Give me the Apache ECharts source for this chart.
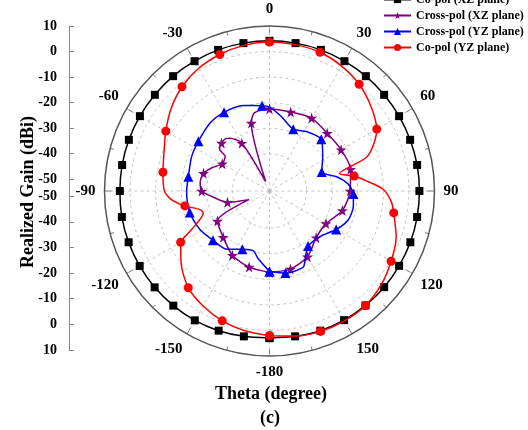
<!DOCTYPE html>
<html><head><meta charset="utf-8">
<script src="https://cdn.jsdelivr.net/npm/echarts@6/dist/echarts.min.js"></script>
<style>html,body{margin:0;padding:0;background:#fff}#c{width:528px;height:430px}</style>
</head><body><div id="c"></div>
<script>
// ---------- data ----------
const seriesNames = ['Co-pol (XZ plane)', 'Cross-pol (XZ plane)', 'Cross-pol (YZ plane)', 'Co-pol (YZ plane)'];

const angleTicks = [-180,-150,-120,-90,-60,-30,0,30,60,90,120,150];
const gainTicks = [10,0,-10,-20,-30,-40,-50];
const gridRings = [-40,-30,-20,-10,0];

// Co-pol (XZ plane)
const coXZTheta = [-180,-170,-160,-150,-140,-130,-120,-110,-100,-90,-80,-70,-60,-50,-40,-30,-20,-10,0,10,20,30,40,50,60,70,80,90,100,110,120,130,140,150,160,170,180];
const coXZGain  = [3.0,3.2,3.6,3.9,4.0,4.1,4.1,4.1,4.1,4.0,4.0,4.0,4.0,4.0,4.1,4.1,4.2,4.2,4.2,4.2,4.2,4.1,4.1,4.0,4.0,4.0,4.1,4.1,4.1,4.1,4.0,4.0,3.9,3.8,3.6,3.2,3.0];
const coXZMarks = coXZTheta;

// Cross-pol (XZ plane)
const crossXZTheta = [-180,-165,-150,-135,-120,-113,-105,-97,-90,-83,-75,-68,-60,-52,-50,-45,-40,-37,-30,-22,-15,-11,0,15,30,45,60,75,90,105,120,135,150,165,180];
const crossXZGain  = [-22.7,-23.7,-25.5,-28.9,-31.0,-45.8,-37.5,-32.9,-28.0,-27.2,-27.8,-30.2,-33.2,-32.5,-29.0,-28.0,-27.8,-28.7,-32.9,-50.5,-27.0,-23.4,-22.4,-22.5,-21.6,-22.6,-22.2,-21.7,-23.0,-25.0,-29.0,-28.7,-24.8,-22.9,-22.7];
const crossXZMarks = [-180,-165,-150,-135,-120,-105,-90,-75,-60,-45,-30,-15,0,15,30,45,60,75,90,105,120,135,150,165,180];

// Cross-pol (YZ plane)
const crossYZTheta = [-180,-170,-165,-155,-144,-131,-119,-105,-90,-80,-66,-55,-41,-30,-17,-5,0,9,21,32,45,57,70,78,85,92,100,110,120,132,145,151,156,166,169,180];
const crossYZGain  = [-23.0,-27.9,-30.3,-29.4,-26.3,-25.2,-23.4,-22.2,-22.1,-22.3,-21.2,-20.6,-19.2,-19.0,-19.6,-21.0,-21.7,-25.0,-28.6,-27.1,-25.9,-29.7,-32.8,-27.7,-23.6,-21.7,-21.2,-21.7,-24.4,-27.9,-28.2,-25.4,-22.0,-21.6,-21.8,-23.0];
const crossYZMarks = [-180,-155,-131,-105,-80,-55,-30,-5,21,45,70,92,120,145,169,180];

// Co-pol (YZ plane)
const coYZTheta = [-180,-170,-160,-150,-140,-130,-120,-118,-114,-108.5,-105,-100,-95,-90,-80,-70,-60,-50,-40,-30,-20,-10,0,10,20,30,40,50,60,66,71,76,80,84,89,95,100,110,120,130,140,150,160,170,180];
const coYZGain  = [2.1,1.0,-0.5,-2.6,-5.1,-9.5,-14.4,-17.8,-23.4,-27.2,-26.4,-20.9,-16.0,-13.4,-12.2,-10.6,-7.7,-4.3,-1.3,0.9,2.3,3.3,3.7,3.6,3.2,1.9,0.0,-2.8,-6.1,-10.0,-14.6,-26.3,-20.9,-16.5,-10.2,-6.7,-5.2,-1.8,0.4,2.5,3.9,4.1,3.9,3.1,2.1];
const coYZMarks = [-180,-160,-140,-120,-100,-80,-60,-40,-20,0,20,40,60,80,100,120,140,160,180];

// ---------- chart ----------
const FONT = '"Liberation Serif", "Times New Roman", serif';
const STAR = 'path://M50,0 L61,35 L98,35 L68,57 L79,91 L50,70 L21,91 L32,57 L2,35 L39,35 Z';

function build(theta, gain, marks) {
  return theta.map((t, i) => {
    const item = { value: [gain[i], t] };
    if (marks.indexOf(t) < 0) item.symbol = 'none';
    return item;
  });
}

const chart = echarts.init(document.getElementById('c'), null, { renderer: 'canvas' });

const lineSeries = (name, data, color, symbol, size, z) => ({
  name, type: 'line', coordinateSystem: 'polar', data,
  smooth: 0.25, symbol, symbolSize: size, showSymbol: true, z,
  itemStyle: { color, borderWidth: 0 },
  lineStyle: { color, width: 1.5 },
  emphasis: { disabled: true }, animation: false
});

chart.setOption({
  animation: false,
  textStyle: { fontFamily: FONT },
  polar: { center: [269.5, 191], radius: 165 },
  angleAxis: {
    type: 'value', min: -180, max: 180, interval: 30,
    startAngle: -90, clockwise: true,
    axisLine: { lineStyle: { color: '#555', width: 1.5 } },
    axisTick: { show: true, inside: true, length: 7, lineStyle: { color: '#777' } },
    minorTick: { show: true, splitNumber: 2, length: 4, lineStyle: { color: '#777' } },
    splitLine: { show: true, lineStyle: { type: [3, 3], color: '#b5b5b5', width: 0.8 } },
    axisLabel: {
      margin: 9, fontSize: 15, fontWeight: 'bold', color: '#000', fontFamily: FONT,
      formatter: v => (angleTicks.indexOf(v) >= 0 ? String(v) : '')
    }
  },
  radiusAxis: {
    type: 'value', min: -54.5, max: 10,
    axisLine: { show: false },
    axisTick: { show: false, customValues: gridRings },
    axisLabel: { show: false, customValues: gridRings },
    splitLine: { show: true, lineStyle: { type: [3, 3], color: '#b5b5b5', width: 0.8 } }
  },
  grid: [
    { left: 69, top: 26, width: 1, height: 161.7 },
    { left: 69, top: 187.7, width: 1, height: 162.3 }
  ],
  xAxis: [
    { gridIndex: 0, type: 'value', show: false },
    { gridIndex: 1, type: 'value', show: false }
  ],
  yAxis: [0, 1].map(g => ({
    gridIndex: g, type: 'value', min: -53.3, max: 10, inverse: g === 1,
    axisLine: { show: true, lineStyle: { color: '#888', width: 1 } },
    axisTick: { show: true, inside: true, length: 5, customValues: gainTicks, lineStyle: { color: '#888' } },
    axisLabel: { margin: 12, customValues: gainTicks, fontSize: 14, fontWeight: 'bold', color: '#000', fontFamily: FONT },
    splitLine: { show: false }
  })),
  legend: {
    orient: 'vertical', left: 383, top: -7, padding: 0,
    itemWidth: 27, itemHeight: 9, itemGap: 3,
    textStyle: { fontSize: 12, fontWeight: 'bold', color: '#000', fontFamily: FONT, lineHeight: 13 },
    data: seriesNames
  },
  graphic: [
    { type: 'text', x: 28, y: 192, rotation: Math.PI / 2,
      style: { text: 'Realized Gain (dBi)', fill: '#000', font: 'bold 18px ' + FONT, align: 'center', verticalAlign: 'middle' } },
    { type: 'text', x: 271, y: 394,
      style: { text: 'Theta (degree)', fill: '#000', font: 'bold 18px ' + FONT, align: 'center', verticalAlign: 'middle' } },
    { type: 'text', x: 270, y: 418,
      style: { text: '(c)', fill: '#000', font: 'bold 18px ' + FONT, align: 'center', verticalAlign: 'middle' } }
  ],
  series: [
    lineSeries(seriesNames[0], build(coXZTheta, coXZGain, coXZMarks), '#000000', 'rect', 8, 2),
    lineSeries(seriesNames[1], build(crossXZTheta, crossXZGain, crossXZMarks), '#800080', STAR, 11, 3),
    lineSeries(seriesNames[2], build(crossYZTheta, crossYZGain, crossYZMarks), '#0000ff', 'triangle', 10, 4),
    lineSeries(seriesNames[3], build(coYZTheta, coYZGain, coYZMarks), '#ff0000', 'circle', 9, 5)
  ]
});
</script></body></html>
